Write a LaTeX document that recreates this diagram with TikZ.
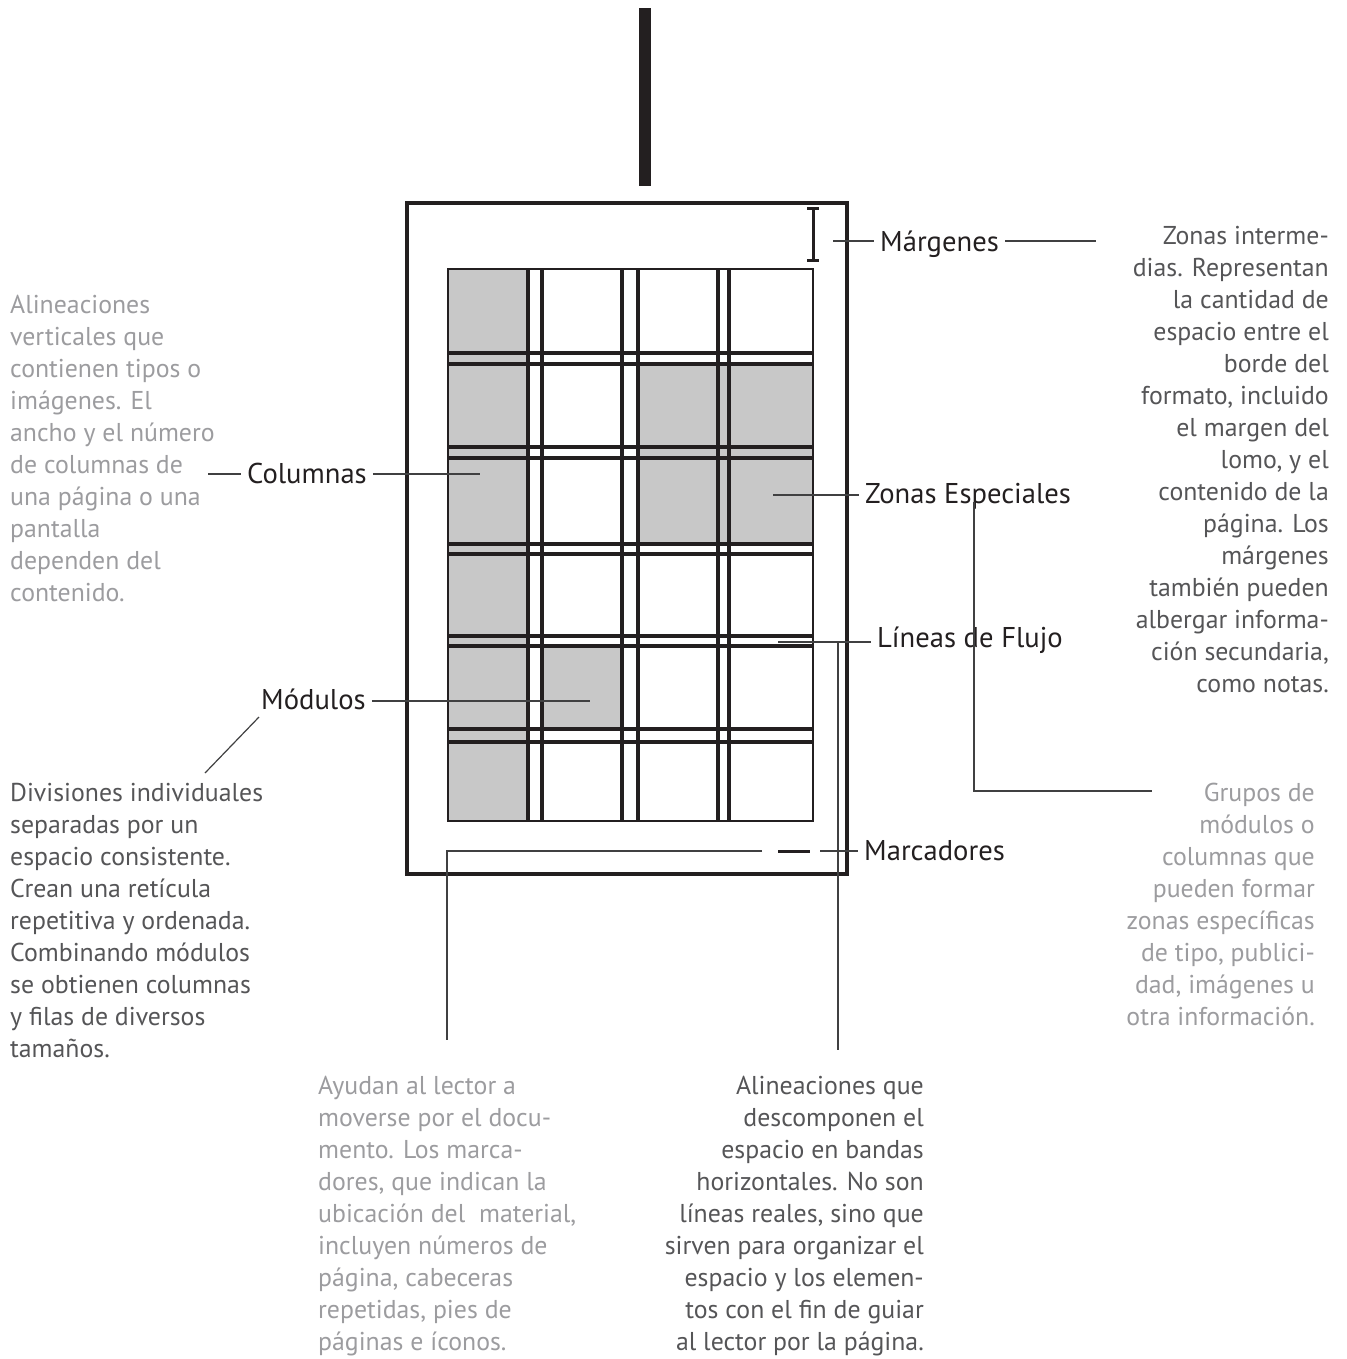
\documentclass[tikz,border=0pt]{standalone}
\usepackage{fontspec}
\setmainfont{PT Sans}
\usetikzlibrary{positioning}
\definecolor{ink}{HTML}{231F20}
\definecolor{softgray}{HTML}{9C9C9F}
\definecolor{midgray}{HTML}{555557}
\definecolor{cellgray}{HTML}{C8C8C8}
\definecolor{leadgray}{HTML}{404041}
\begin{document}
\begin{tikzpicture}
  [x=1pt,y=-1pt,
   tag/.style={font=\fontsize{28.6}{34}\selectfont,text=ink,inner xsep=6pt,inner ysep=0pt,anchor=base west},
   note/.style={font=\fontsize{25.8}{32}\selectfont,inner sep=0pt},
   lead/.style={line width=1.2pt,draw=leadgray},
   rule/.style={line width=3.2pt,draw=ink}]
\useasboundingbox (0,0) rectangle (1346,1359);

\fill[ink] (639,8) rectangle (651,186);
\draw[ink,line width=4.5pt] (407,203) rectangle (847,874);
\fill[cellgray] (448,269) rectangle (528,821);
\fill[cellgray] (542,646) rectangle (622,729);
\fill[cellgray] (638,364) rectangle (813,544);
\foreach \x in {528,542,622,638,718,729} \draw[rule] (\x,269) -- (\x,821);
\foreach \y in {353,364,447,458,544,554,636,646,729,742} \draw[rule] (448,\y) -- (813,\y);
\draw[ink,line width=2.4pt] (448,269) rectangle (813,821);
\draw[ink,line width=3pt] (813,208) -- (813,260) (807,208) -- (819,208) (807,260) -- (819,260);

\node (marg)[tag] at (874,251) {Márgenes};
\node (colu)[tag] at (241,483) {Columnas};
\node (zone)[tag] at (859,503) {Zonas Especiales};
\node (flow)[tag] at (871,647) {Líneas de Flujo};
\node (modu)[tag] at (255,709) {Módulos};
\node (mark)[tag] at (858,860) {Marcadores};

\node (alin)[note,text=softgray,align=left,anchor=north west] at (10,290.6)
  {\strut Alineaciones\\verticales que\\contienen tipos o\\imágenes. El\\ancho y el número\\de columnas de\\una página o una\\pantalla\\dependen del\\contenido.};
\node (inter)[note,text=midgray,align=right,anchor=north east] at (1329,221.6)
  {\strut Zonas interme-\\dias. Representan\\la cantidad de\\espacio entre el\\borde del\\formato, incluido\\el margen del\\lomo, y el\\contenido de la\\página. Los\\márgenes\\también pueden\\albergar informa-\\ción secundaria,\\como notas.};
\node (divi)[note,text=midgray,align=left,anchor=north west] at (10,778.6)
  {\strut Divisiones individuales\\separadas por un\\espacio consistente.\\Crean una retícula\\repetitiva y ordenada.\\Combinando módulos\\se obtienen columnas\\y filas de diversos\\tamaños.};
\node (grup)[note,text=softgray,align=right,anchor=north east] at (1315,778.6)
  {\strut Grupos de\\módulos o\\columnas que\\pueden formar\\zonas específicas\\de tipo, publici-\\dad, imágenes u\\otra información.};
\node (ayud)[note,text=softgray,align=left,anchor=north west] at (318,1071.6)
  {\strut Ayudan al lector a\\moverse por el docu-\\mento. Los marca-\\dores, que indican la\\ubicación del\ \ material,\\incluyen números de\\página, cabeceras\\repetidas, pies de\\páginas e íconos.};
\node (band)[note,text=midgray,align=right,anchor=north east] at (924,1071.6)
  {\strut Alineaciones que\\descomponen el\\espacio en bandas\\horizontales. No son\\líneas reales, sino que\\sirven para organizar el\\espacio y los elemen-\\tos con el fin de guiar\\al lector por la página.};

\coordinate (mtick) at (833,241);
\coordinate (mend) at (1096,241);
\coordinate (cleft) at (208,474);
\coordinate (cright) at (480,474);
\coordinate (mright) at (590,701);
\coordinate (mtop) at (259,717);
\coordinate (mlow) at (205,773);
\coordinate (zleft) at (773,495);
\coordinate (ztop) at (974,502);
\coordinate (zbend) at (974,791);
\coordinate (zend) at (1152,791);
\coordinate (fleft) at (778,642);
\coordinate (fdrop) at (838,642);
\coordinate (fend) at (838,1050);
\coordinate (kgap) at (820,851);
\coordinate (kdash) at (778,851);
\coordinate (kdashend) at (810,851);
\coordinate (kline) at (762,851);
\coordinate (kbend) at (447,851);
\coordinate (kend) at (447,1040);

\path[lead]
  (mtick) edge (mtick -| marg.west)
  (marg.east |- mtick) edge (mend)
  (cleft) edge (cleft -| colu.west)
  (colu.east |- cleft) edge (cright)
  (modu.east |- mright) edge (mright)
  (mtop) edge (mlow)
  (zleft) edge (zleft -| zone.west)
  (fleft) edge (fleft -| flow.west)
  (kgap) edge (kgap -| mark.west);
\draw[lead] (ztop) -- (zbend) -- (zend);
\draw[lead] (fdrop) -- (fend);
\draw[lead] (kline) -- (kbend) -- (kend);
\draw[ink,line width=3pt] (kdash) -- (kdashend);
\end{tikzpicture}
\end{document}
